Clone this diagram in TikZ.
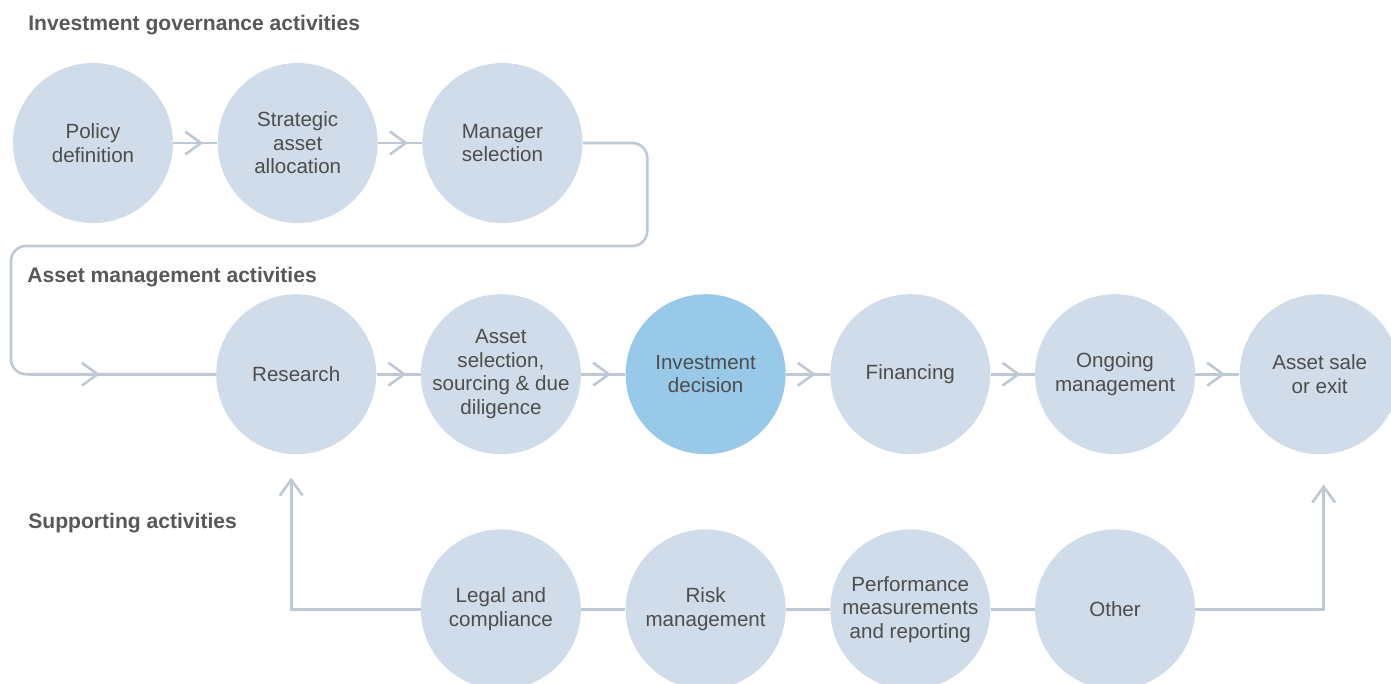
\documentclass[tikz,border=0pt]{standalone}
\usepackage{fontspec}
\setmainfont{Liberation Sans}
\usepackage{tikz}
\usetikzlibrary{arrows.meta,positioning,calc,decorations.markings}
\usepackage{xcolor}
\definecolor{stagefill}{RGB}{208,220,234}
\definecolor{stagehigh}{RGB}{152,201,232}
\definecolor{flowgray}{RGB}{190,201,213}
\definecolor{textgray}{RGB}{77,77,77}
\definecolor{headgray}{RGB}{88,88,88}
\tikzstyle{stage} = [circle, minimum size=3.2cm, inner sep=-5pt, fill=stagefill, text=textgray, align=center, font=\fontsize{11.7}{13.4}\selectfont]
\tikzstyle{flow} = [line width=1.5pt, color=flowgray]
\tikzstyle{heading} = [anchor=base west, inner sep=0pt, text=headgray, font=\fontsize{12}{14}\selectfont\bfseries]
\tikzset{chev/.style={postaction={decorate}, decoration={markings, mark=at position #1 with {\arrow[xshift=4.5pt]{Straight Barb[length=9pt,width=13pt]}}}}, chev/.default=0.5}

\begin{document}
\begin{tikzpicture}[node distance=0.88cm]
\useasboundingbox (0,0) rectangle (27.82,-13.68);
% Governance
\node[heading] (govhead) at (0.56,-0.6) {Investment governance activities};
\node[stage] (policy) at (1.86,-2.86) {Policy\\definition};
\node[stage, right=of policy] (strat) {Strategic\\asset\\allocation};
\node[stage, right=of strat] (mgr) {Manager\\selection};

% Asset management
\node[heading] (amhead) at (0.54,-5.64) {Asset management activities};
\node[stage, below=1.41cm of strat, xshift=-0.03cm] (res) {Research};
\node[stage, right=of res] (asel) {Asset\\selection,\\sourcing \& due\\diligence};
\node[stage, fill=stagehigh, right=of asel] (dec) {Investment\\decision};
\node[stage, right=of dec] (fin) {Financing};
\node[stage, right=of fin] (ongo) {Ongoing\\management};
\node[stage, right=of ongo] (sale) {Asset sale\\or exit};

% Supporting
\node[heading] (suphead) at (0.56,-10.56) {Supporting activities};
\node[stage, below=1.49cm of asel] (legal) {Legal and\\compliance};
\node[stage, right=of legal] (risk) {Risk\\management};
\node[stage, right=of risk] (perf) {Performance\\measurements\\and reporting};
\node[stage, right=of perf] (other) {Other};

\coordinate (loopx) at (0.22,-4.92);
\coordinate (loopin) at ($(loopx |- res.west)+(0.4,0)$);

\draw[flow, chev] (policy) -- (strat);
\draw[flow, chev] (strat) -- (mgr);
\draw[flow, rounded corners=8.5pt] (mgr.east) -- ++(1.29,0) |- (loopx) |- (res.west);
\draw[flow, chev=0.33] (loopin) -- (res.west);
\draw[flow, chev] (res) -- (asel);
\draw[flow, chev] (asel) -- (dec);
\draw[flow, chev] (dec) -- (fin);
\draw[flow, chev] (fin) -- (ongo);
\draw[flow, chev] (ongo) -- (sale);

\draw[flow] (legal) -- (risk);
\draw[flow] (risk) -- (perf);
\draw[flow] (perf) -- (other);
\draw[flow, -{Straight Barb[length=9pt,width=13pt]}, shorten >=0.46cm] (legal.west) -| ([xshift=-0.1cm]res.south);
\draw[flow, -{Straight Barb[length=9pt,width=13pt]}, shorten >=0.6cm] (other.east) -| ([xshift=0.08cm]sale.south);
\end{tikzpicture}
\end{document}
